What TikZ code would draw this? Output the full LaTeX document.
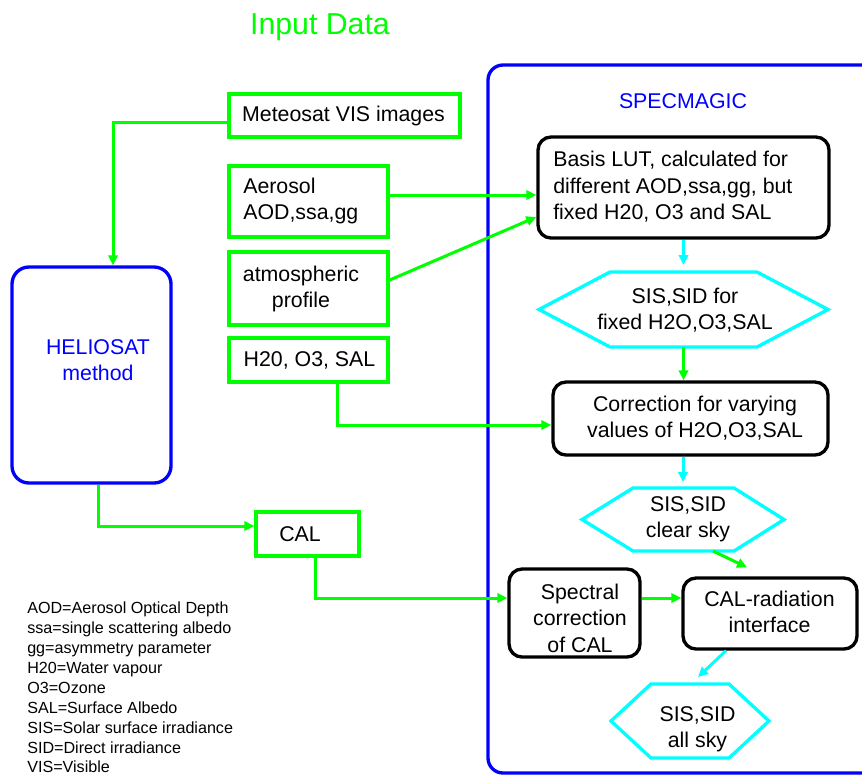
\documentclass[tikz,border=0pt]{standalone}
\usepackage{fontspec}
\setmainfont{Liberation Sans}
\usetikzlibrary{arrows.meta,calc}
\definecolor{lgreen}{RGB}{0,255,0}
\definecolor{lblue}{RGB}{0,0,255}
\definecolor{lcyan}{RGB}{0,255,255}
\newcommand{\mainfs}{\fontsize{16}{19.8}\selectfont}
\newcommand{\legfs}{\fontsize{12.1}{14.9}\selectfont}
\begin{document}
\begin{tikzpicture}[x=0.75pt,y=-0.75pt,
  gbox/.style={draw=lgreen, line width=2.5pt, inner sep=0pt},
  kbox/.style={draw=black, line width=2.5pt, rounded corners=9.75pt, inner sep=0pt},
  hexarea/.style={inner sep=0pt, outer sep=0pt},
  hexline/.style={draw=lcyan, line width=2.5pt},
  txt/.style={font=\mainfs, align=center, inner sep=0pt},
  garrow/.style={draw=lgreen, line width=2.25pt, -{Triangle[length=7.5pt,width=7pt]}},
  carrow/.style={draw=lcyan, line width=2.25pt, -{Triangle[length=7.5pt,width=7pt]}}]
\useasboundingbox (0,0) rectangle (862,776);

% title
\node[font=\fontsize{22.7}{27}\selectfont, text=lgreen, inner sep=0pt] (title) at (320,27) {Input Data};

% SPECMAGIC container
\draw[draw=lblue, line width=2.5pt, rounded corners=11.25pt] (880,65) -- (488,65) -- (488,773) -- (880,773);
\node[txt, text=lblue] (spectitle) at (683,101) {SPECMAGIC};

% left input boxes
\node[gbox, minimum width=173.25pt, minimum height=32.25pt] (met) at (344.5,115.5) {};
\node[txt] (metT) at (343.5,115.5) {Meteosat VIS images};

\node[gbox, minimum width=119.25pt, minimum height=53.25pt] (aer) at (308.5,201.5) {};
\node[txt, align=left, anchor=west] (aerT) at (243,201) {Aerosol\\AOD,ssa,gg};

\node[gbox, minimum width=119.25pt, minimum height=54.75pt] (atm) at (308.5,288.5) {};
\node[txt] (atmT) at (301,289) {atmospheric\\profile};

\node[gbox, minimum width=119.25pt, minimum height=33pt] (h20) at (308.5,360) {};
\node[txt] (h20T) at (309.5,360) {H20, O3, SAL};

\node[draw=lblue, line width=2.5pt, rounded corners=12.75pt, inner sep=0pt, minimum width=119.25pt, minimum height=162pt] (helio) at (91.5,375) {};
\node[txt, text=lblue] (helioT) at (98,360) {HELIOSAT\\method};

\node[gbox, minimum width=77.25pt, minimum height=33pt] (cal) at (307.5,534) {};
\node[txt] (calT) at (300,534) {CAL};

% right column
\node[kbox, minimum width=218.25pt, minimum height=75.75pt] (lut) at (683.5,187.5) {};
\node[txt, align=left, anchor=west] (lutT) at (553,187) {Basis LUT, calculated for\\different AOD,ssa,gg, but\\fixed H20, O3 and SAL};

\node[hexarea, minimum width=216.75pt, minimum height=56.25pt] (h1) at (683.5,309.5) {};
\draw[hexline] (h1.west) -- ([xshift=53.25pt]h1.north west) -- ([xshift=-53.25pt]h1.north east) -- (h1.east) -- ([xshift=-53.25pt]h1.south east) -- ([xshift=53.25pt]h1.south west) -- cycle;
\node[txt] (h1T) at (685,310) {SIS,SID for\\fixed H2O,O3,SAL};

\node[kbox, minimum width=206.25pt, minimum height=54.75pt] (corr) at (690.5,418.5) {};
\node[txt] (corrT) at (695,418) {Correction for varying\\values of H2O,O3,SAL};

\node[hexarea, minimum width=151.5pt, minimum height=47.25pt] (h2) at (683,519.5) {};
\draw[hexline] (h2.west) -- ([xshift=38.25pt]h2.north west) -- ([xshift=-37.5pt]h2.north east) -- (h2.east) -- ([xshift=-37.5pt]h2.south east) -- ([xshift=38.25pt]h2.south west) -- cycle;
\node[txt] (h2T) at (688,519) {SIS,SID\\clear sky};

\node[kbox, minimum width=98.25pt, minimum height=66pt] (spec) at (574.5,613) {};
\node[txt] (specT) at (580,618) {Spectral\\correction\\of CAL};

\node[kbox, minimum width=130.5pt, minimum height=53.25pt] (calr) at (770,613.5) {};
\node[txt] (calrT) at (769.5,612) {CAL-radiation\\interface};

\node[hexarea, minimum width=118.5pt, minimum height=55.5pt] (h3) at (690,721) {};
\draw[hexline] (h3.west) -- ([xshift=30pt]h3.north west) -- ([xshift=-30pt]h3.north east) -- (h3.east) -- ([xshift=-30pt]h3.south east) -- ([xshift=30pt]h3.south west) -- cycle;
\node[txt] (h3T) at (697.5,729) {SIS,SID\\all sky};

% legend
\node[font=\legfs, align=left, anchor=north west, inner sep=0pt] (legend) at (27,602) {AOD=Aerosol Optical Depth\\ssa=single scattering albedo\\gg=asymmetry parameter\\H20=Water vapour\\O3=Ozone\\SAL=Surface Albedo\\SIS=Solar surface irradiance\\SID=Direct irradiance\\VIS=Visible};

% connectors
\draw[garrow] ([yshift=-4.875pt]met.west) -| ([xshift=16.125pt]helio.north);
\draw[garrow] ([yshift=4.875pt]aer.east) coordinate (a1) -- (a1 -| lut.west);
\draw[garrow] ([yshift=6.375pt]atm.east) -- ([yshift=-22.125pt]lut.west);
\draw[garrow] ([xshift=21.375pt]h20.south) |- ([yshift=-4.875pt]corr.west);
\draw[garrow] ([xshift=4.875pt]helio.south) |- ([yshift=6pt]cal.west);
\draw[garrow] ([xshift=5.625pt]cal.south) |- ([yshift=11.25pt]spec.west);
\draw[carrow, shorten >=5.25pt] (lut.south -| h1.north) -- (h1.north);
\draw[garrow] (h1.south) -- (h1.south |- corr.north);
\draw[carrow, shorten >=4.5pt] (corr.south -| h2.north) -- (h2.north);
\draw[garrow] ([xshift=22.5pt]h2.south) -- ([xshift=-17.25pt,yshift=6.75pt]calr.north);
\draw[garrow] ([yshift=11.25pt]spec.east) coordinate (s1) -- (s1 -| calr.west);
\draw[carrow] ([xshift=-33pt]calr.south) -- ([xshift=6pt,yshift=5.25pt]h3.north);
\end{tikzpicture}
\end{document}
